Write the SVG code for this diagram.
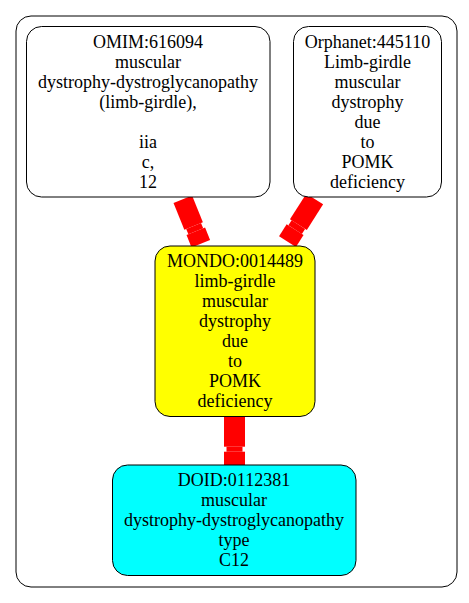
<svg xmlns="http://www.w3.org/2000/svg" width="469" height="603" viewBox="0 0 469 603" font-family="'Liberation Serif', 'Times New Roman', serif">
<style>
text{font-family:"Liberation Serif","Times New Roman",serif;font-size:18px;text-anchor:middle;fill:#000}
.n{stroke:#000;stroke-width:1}
.e{stroke:#ff0000;fill:none;stroke-linecap:butt}
.w{stroke-width:20}
.k{stroke-width:16}
</style>
<rect width="469" height="603" fill="#fff"/>
<rect x="16" y="16" width="441" height="571" rx="15" ry="15" fill="none" stroke="#000" stroke-width="1"/>
<g id="connectors">
<g id="e1">
<line class="e w" x1="182.8" y1="199.2" x2="193.6" y2="225.9"/>
<line class="e k" x1="193.6" y1="225.9" x2="195.8" y2="231.3"/>
<line class="e w" x1="195.8" y1="231.3" x2="200.8" y2="243.7"/>
</g>
<g id="e2">
<line class="e w" x1="314.7" y1="199" x2="298.4" y2="224.6"/>
<line class="e k" x1="298.4" y1="224.6" x2="295.1" y2="229.7"/>
<line class="e w" x1="295.1" y1="229.7" x2="287.5" y2="241.7"/>
</g>
<g id="e3">
<line class="e" stroke-width="21" x1="234.5" y1="416.5" x2="234.5" y2="446.7"/>
<line class="e k" x1="234.5" y1="446.7" x2="234.5" y2="451.7"/>
<line class="e" stroke-width="21" x1="234.5" y1="451.7" x2="234.5" y2="465"/>
</g>
</g>
<g id="omim">
<rect class="n" x="26.5" y="26.5" width="243.5" height="170.5" rx="15" ry="15" fill="#fff"/>
<text x="148" y="47.7">OMIM:616094</text>
<text x="148" y="67.7">muscular</text>
<text x="148" y="87.7">dystrophy-dystroglycanopathy</text>
<text x="148" y="107.7">(limb-girdle),</text>
<text x="148" y="147.7">iia</text>
<text x="148" y="167.7">c,</text>
<text x="148" y="187.7">12</text>
</g>
<g id="orphanet">
<rect class="n" x="293.5" y="26.5" width="148" height="170.5" rx="15" ry="15" fill="#fff"/>
<text x="367.5" y="47.7">Orphanet:445110</text>
<text x="367.5" y="67.7">Limb-girdle</text>
<text x="367.5" y="87.7">muscular</text>
<text x="367.5" y="107.7">dystrophy</text>
<text x="367.5" y="127.7">due</text>
<text x="367.5" y="147.7">to</text>
<text x="367.5" y="167.7">POMK</text>
<text x="367.5" y="187.7">deficiency</text>
</g>
<g id="mondo">
<rect class="n" x="155" y="246" width="160" height="170.5" rx="15" ry="15" fill="#ffff00"/>
<text x="235" y="266.7">MONDO:0014489</text>
<text x="235" y="286.7">limb-girdle</text>
<text x="235" y="306.7">muscular</text>
<text x="235" y="326.7">dystrophy</text>
<text x="235" y="346.7">due</text>
<text x="235" y="366.7">to</text>
<text x="235" y="386.7">POMK</text>
<text x="235" y="406.7">deficiency</text>
</g>
<g id="doid">
<rect class="n" x="112.5" y="465" width="243.5" height="110.5" rx="15" ry="15" fill="#00ffff"/>
<text x="234" y="485.7">DOID:0112381</text>
<text x="234" y="505.7">muscular</text>
<text x="234" y="525.7">dystrophy-dystroglycanopathy</text>
<text x="234" y="545.7">type</text>
<text x="234" y="565.7">C12</text>
</g>
</svg>
